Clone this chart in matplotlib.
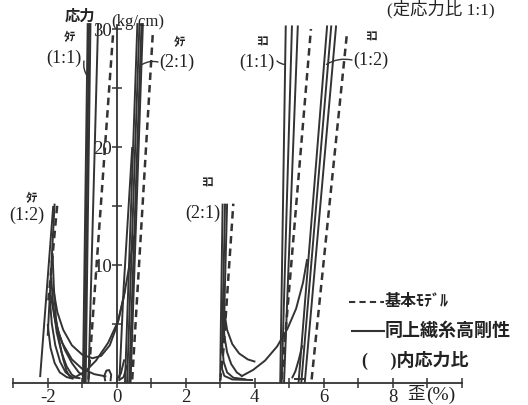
import matplotlib
matplotlib.use("Agg")
import matplotlib.pyplot as plt
from matplotlib.lines import Line2D

plt.rcParams['font.family'] = ['Liberation Serif', 'Noto Sans CJK JP', 'DejaVu Sans']

# ---------------- data (strain %, stress kg/cm) ----------------
# タテ (1:2)
tate12_solid = [
    [(-2.22, 0.5), (-1.84, 15.0)],
    [(-2.00, 4.0), (-1.80, 15.2)],
]
tate12_dashed = [
    [(-1.98, 7.0), (-1.72, 15.2)],
]
tate12_curves = [
    [(-1.86, 11.0), (-1.82, 8.0), (-1.76, 5.5), (-1.66, 3.5), (-1.55, 2.0), (-1.45, 1.0), (-1.35, 0.5)],
    [(-1.90, 9.0), (-1.84, 6.5), (-1.74, 4.3), (-1.60, 2.6), (-1.45, 1.4), (-1.30, 0.7), (-1.15, 0.45)],
    [(-1.95, 7.5), (-1.88, 5.0), (-1.78, 3.2), (-1.64, 1.8), (-1.48, 0.9), (-1.30, 0.5), (-1.05, 0.4)],
    [(-2.00, 5.0), (-1.92, 3.0), (-1.80, 1.7), (-1.65, 0.9), (-1.45, 0.5), (-1.25, 0.35)],
    [(-1.82, 6.0), (-1.68, 4.2), (-1.50, 2.8), (-1.30, 1.7), (-1.10, 0.9), (-0.90, 0.5)],
    [(-1.84, 8.0), (-1.72, 6.0), (-1.55, 4.5), (-1.30, 3.2), (-1.00, 2.4), (-0.70, 2.1),
     (-0.45, 2.3), (-0.20, 3.2), (0.00, 4.8), (0.20, 7.2), (0.40, 10.5), (0.50, 12.5)],
    [(-1.93, 7.7), (-1.78, 5.2), (-1.58, 3.4), (-1.30, 2.0), (-1.00, 1.2), (-0.65, 0.75), (-0.30, 0.55)],
    [(0.25, 8.0), (0.05, 5.3), (-0.25, 3.4), (-0.60, 1.9), (-0.90, 1.0), (-1.20, 0.5)],
    [(-0.33, 0.15), (-0.36, 0.6), (-0.30, 1.05), (-0.22, 1.1), (-0.16, 0.7), (-0.18, 0.15)],
]
# タテ (1:1)
tate11_solid = [
    [(-0.98, 0.0), (-0.84, 30.5)],
    [(-0.94, 0.0), (-0.80, 30.5)],
    [(-0.90, 0.0), (-0.76, 30.5)],
    [(-0.82, 0.0), (-0.54, 30.5)],
]
tate11_dashed = [
    [(-0.82, 0.3), (-0.10, 29.8)],
]
# タテ (2:1)
tate21_solid = [
    [(0.24, 0.0), (0.60, 30.5)],
    [(0.30, 0.0), (0.66, 30.5)],
    [(0.36, 0.0), (0.72, 30.5)],
    [(0.40, 0.0), (0.76, 30.5)],
    [(0.08, 0.3), (0.20, 8.0), (0.45, 20.0)],
    [(0.00, 0.3), (0.12, 0.8), (0.22, 2.0)],
    [(0.05, 0.2), (0.20, 0.5), (0.30, 1.5)],
]
tate21_dashed = [
    [(0.45, 0.3), (1.05, 29.8)],
]
# ヨコ (2:1)
yoko21_solid = [
    [(3.00, 0.5), (3.02, 5.0), (3.07, 15.2)],
    [(3.05, 2.5), (3.14, 15.2)],
    [(3.10, 4.0), (3.20, 15.2)],
    [(3.10, 8.0), (3.12, 6.0), (3.20, 4.5), (3.35, 3.3), (3.55, 2.5), (3.80, 2.0), (4.02, 1.8)],
    [(3.08, 6.0), (3.12, 4.0), (3.20, 2.6), (3.32, 1.6), (3.48, 0.9), (3.65, 0.55)],
    [(3.05, 3.5), (3.10, 1.8), (3.20, 0.9), (3.38, 0.45), (3.75, 0.3)],
    [(3.02, 1.5), (3.12, 0.6), (3.35, 0.3), (3.95, 0.25)],
    [(3.60, 0.55), (3.95, 1.1), (4.30, 1.9), (4.65, 3.1), (4.95, 4.6), (5.20, 6.3), (5.40, 8.5), (5.52, 10.5)],
]
yoko21_dashed = [
    [(3.00, 0.2), (3.10, 3.0), (3.38, 15.2)],
]
# ヨコ (1:1)
yoko11_solid = [
    [(4.74, 0.0), (4.90, 30.3)],
    [(4.78, 0.0), (5.08, 30.3)],
    [(4.85, 0.0), (5.25, 30.3)],
]
yoko11_dashed = [
    [(4.78, 0.3), (5.63, 30.0)],
]
# ヨコ (1:2)
yoko12_solid = [
    [(5.27, 0.0), (6.10, 30.3)],
    [(5.35, 0.0), (6.22, 30.3)],
    [(5.45, 0.0), (6.36, 30.3)],
    [(5.08, 0.4), (5.18, 1.0), (5.28, 2.0), (5.38, 3.2)],
    [(5.15, 0.3), (5.50, 0.3)],
]
yoko12_dashed = [
    [(5.65, 0.3), (6.68, 29.8)],
]

x_major = [-2, 0, 2, 4, 6, 8]
x_minor = [-3, -1, 1, 3, 5, 7, 9, 10]
y_major = [10, 20, 30]
y_minor = [5, 15, 25]

# ---------------- figure ----------------
W, H = 528, 406
fig = plt.figure(figsize=(W / 100, H / 100), dpi=100)
ax = fig.add_axes([0, 0, 1, 1])
ax.patch.set_alpha(0)

X0, SX = 116.7, 34.5
Y0, SY = 384.0, 11.8
ax.set_xlim(-X0 / SX, (W - X0) / SX)
ax.set_ylim(-(H - Y0) / SY, Y0 / SY)

ink = '#333333'
for groups in [tate12_solid + tate12_curves, tate11_solid, tate21_solid,
               yoko21_solid, yoko11_solid, yoko12_solid]:
    for g in groups:
        xs, ys = zip(*g)
        ax.plot(xs, ys, color=ink, lw=1.4, solid_capstyle='butt')
for groups in [tate12_dashed, tate11_dashed, tate21_dashed, yoko21_dashed, yoko11_dashed, yoko12_dashed]:
    for g in groups:
        xs, ys = zip(*g)
        ax.plot(xs, ys, color=ink, lw=1.8, ls=(0, (3, 2)))

for s in ['top', 'right']:
    ax.spines[s].set_visible(False)
ax.spines['left'].set_position(('data', 0))
ax.spines['bottom'].set_position(('data', 0))
ax.spines['left'].set_bounds(0, 30.3)
ax.spines['bottom'].set_bounds(-3, 10)
for s in ['left', 'bottom']:
    ax.spines[s].set_color(ink)
    ax.spines[s].set_linewidth(1.3)

ax.set_xticks(x_major)
ax.set_xticklabels([str(v) for v in x_major])
ax.set_xticks(x_minor, minor=True)
ax.set_yticks(y_major)
ax.set_yticklabels([str(v) for v in y_major])
ax.set_yticks(y_minor, minor=True)
ax.tick_params(axis='both', which='both', direction='inout', length=7, width=1.1,
               color=ink, labelcolor='#222222', labelsize=13.5)
ax.tick_params(axis='x', which='major', pad=0)
ax.tick_params(axis='y', which='major', pad=0)


def fx(px):
    return px / W


def fy(py):
    return 1 - py / H


txt = '#222222'
fig.text(fx(65), fy(17), '応力', ha='left', va='center', fontsize=11, weight='bold', color=txt)
fig.text(fx(111), fy(22), '(kg/cm)', ha='left', va='center', fontsize=12, color=txt)
fig.text(fx(441), fy(9), '(定応力比 1:1)', ha='center', va='center', fontsize=12.5, color=txt)
fig.text(fx(407), fy(395), '歪', ha='left', va='center', fontsize=12.5, color=txt)
fig.text(fx(426), fy(395), '(%)', ha='left', va='center', fontsize=14, color=txt)


def group_label(kana, kpos, ratio, rpos, target=None, start=None):
    fig.text(fx(kpos[0]), fy(kpos[1]), kana, ha='center', va='center', fontsize=9,
             weight='bold', color=txt)
    fig.text(fx(rpos[0]), fy(rpos[1]), ratio, ha='center', va='center', fontsize=13, color=txt)
    if target is not None:
        ax.annotate('', xy=target, xycoords='data',
                    xytext=(start[0], H - start[1]), textcoords='figure pixels',
                    arrowprops=dict(arrowstyle='-', color=ink, lw=1.0,
                                    connectionstyle='arc3,rad=0.2', shrinkA=0, shrinkB=0))


group_label('ﾀﾃ', (70, 38), '(1:1)', (64, 58), target=(-0.85, 26.0), start=(84, 62))
group_label('ﾀﾃ', (180, 43), '(2:1)', (177, 62), target=(0.74, 27.0), start=(158, 63))
group_label('ﾀﾃ', (32, 199), '(1:2)', (27, 215))
group_label('ﾖｺ', (207, 184), '(2:1)', (203, 213))
group_label('ﾖｺ', (262, 43), '(1:1)', (257, 62), target=(4.88, 27.0), start=(277, 62))
group_label('ﾖｺ', (371, 38), '(1:2)', (371, 60), target=(6.08, 27.0), start=(352, 61))

# legend
fig.add_artist(Line2D([fx(349), fx(384)], [fy(303), fy(303)], color=ink, lw=1.5, ls=(0, (3, 2))))
fig.text(fx(385), fy(302), '基本ﾓﾃﾞﾙ', ha='left', va='center', fontsize=11.5, weight='bold', color=txt)
fig.add_artist(Line2D([fx(352), fx(384)], [fy(332), fy(332)], color=ink, lw=1.5))
fig.text(fx(385), fy(331), '同上繊糸高剛性', ha='left', va='center', fontsize=13, weight='bold', color=txt)
fig.text(fx(362), fy(360), '(　 )内応力比', ha='left', va='center', fontsize=13, weight='bold', color=txt)

fig.savefig('out.png', dpi=100)
